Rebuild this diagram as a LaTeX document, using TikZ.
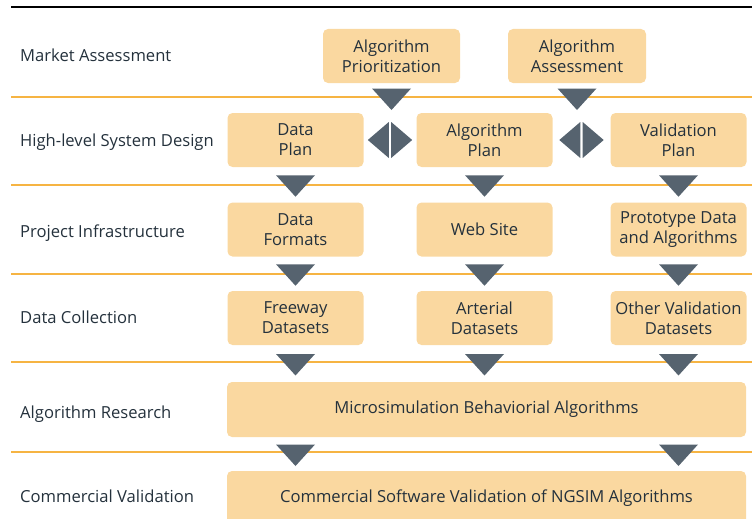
\documentclass[tikz,border=0pt]{standalone}
\usepackage{fontspec}
\setmainfont{Open Sans}
\usetikzlibrary{calc}

\definecolor{boxfill}{HTML}{FAD8A0}
\definecolor{rule}{HTML}{F6B443}
\definecolor{arrowgrey}{HTML}{56636F}
\definecolor{ink}{HTML}{24313C}

\tikzset{
  stage/.style={anchor=base west, text=ink, inner sep=0pt,
    font=\fontsize{16.6}{20}\selectfont},
  task/.style={fill=boxfill, rounded corners=5pt, text=ink, align=center,
    minimum width=136pt, minimum height=54pt, inner sep=2pt,
    font=\fontsize{16.6}{20}\selectfont},
  widetask/.style={task, minimum width=519pt, minimum height=55pt},
  sep/.style={draw=rule, line width=1.6pt},
  tri/.style={fill=arrowgrey},
}

% downward arrow head: x taken from #1, centred between #2 and #3
\newcommand\downtri[3]{%
  \coordinate (tmid) at ($(#2.south)!0.5!(#3.north)$);
  \fill[tri] (#1 |- tmid) ++(-19.5,-9.5) -- ++(39,0) -- ++(-19.5,21.5) -- cycle;}
% two-way arrow head between the boxes #1 and #2
\newcommand\twoway[2]{%
  \coordinate (dmid) at ($(#1.east)!0.5!(#2.west)$);
  \fill[tri] (dmid) ++(-1.2,-18) -- ++(0,36) -- ++(-21,-18) -- cycle;
  \fill[tri] (dmid) ++(1.2,-18) -- ++(0,36) -- ++(21,-18) -- cycle;}

\begin{document}
\begin{tikzpicture}[x=1pt, y=-1pt]
\useasboundingbox (0,0) rectangle (752,519);
\clip (0,0) rectangle (752,519);

% heading rule and row separators
\draw[black, line width=1.8pt] (11,7) -- (752,7);
\foreach \yy in {97,185,274,362,452} \draw[sep] (11,\yy) -- (752,\yy);

% row titles
\node[stage] (l1) at (20,62)  {Market Assessment};
\node[stage] (l2) at (20,146) {High-level System Design};
\node[stage] (l3) at (20,237) {Project Infrastructure};
\node[stage] (l4) at (20,323) {Data Collection};
\node[stage] (l5) at (20,418) {Algorithm Research};
\node[stage] (l6) at (20,502) {Commercial Validation};

% tasks
\node[task, minimum width=137pt] (ap) at (391.5,56) {Algorithm\\Prioritization};
\node[task, minimum width=138pt] (aa) at (577,56)   {Algorithm\\Assessment};

\node[task] (dp)  at (295.5,140) {Data\\Plan};
\node[task] (alp) at (484.5,140) {Algorithm\\Plan};
\node[task] (vp)  at (678.5,140) {Validation\\Plan};

\node[task] (df)  at (295.5,229.5) {Data\\Formats};
\node[task] (ws)  at (484.5,229.5) {Web Site};
\node[task] (pd)  at (678.5,229.5) {Prototype Data\\and Algorithms};

\node[task] (fd)  at (295.5,318) {Freeway\\Datasets};
\node[task] (ad)  at (484.5,318) {Arterial\\Datasets};
\node[task] (od)  at (678.5,318) {Other Validation\\Datasets};

\node[widetask] (mb) at (486.5,409.5) {Microsimulation Behaviorial Algorithms};
\node[widetask] (cs) at (486.5,498.5) {Commercial Software Validation of NGSIM Algorithms};

% arrow heads between rows
\downtri{ap}{ap}{alp}
\downtri{aa}{aa}{vp}
\twoway{dp}{alp}
\twoway{alp}{vp}

\downtri{dp}{dp}{df}
\downtri{alp}{alp}{ws}
\downtri{vp}{vp}{pd}

\downtri{df}{df}{fd}
\downtri{ws}{ws}{ad}
\downtri{pd}{pd}{od}

\downtri{fd}{fd}{mb}
\downtri{ad}{ad}{mb}
\downtri{od}{od}{mb}

\downtri{fd}{mb}{cs}
\downtri{od}{mb}{cs}
\end{tikzpicture}
\end{document}
